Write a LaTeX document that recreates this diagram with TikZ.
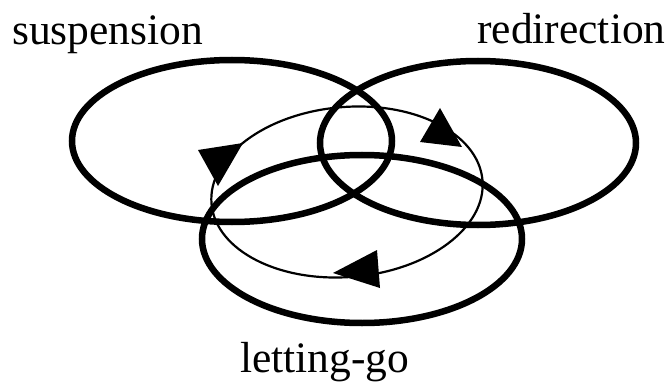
\documentclass[tikz,border=0pt]{standalone}
\usepackage{fontspec}
\setmainfont{Liberation Serif}
\usetikzlibrary{shapes.geometric}
\tikzset{
  phase/.style={draw,ellipse,inner sep=0pt,line width=6.5pt},
  cycleloop/.style={draw,ellipse,inner sep=0pt,line width=2.2pt},
  tag/.style={anchor=base west,inner sep=0pt,font=\fontsize{43.5}{52}\selectfont},
}
\begin{document}
\begin{tikzpicture}[x=1pt,y=1pt]
  \useasboundingbox (0,0) rectangle (667,381);
  % the three phases
  \node[phase,minimum width=320pt,minimum height=162pt] (susp) at (232,240) {};
  \node[phase,minimum width=316pt,minimum height=164pt] (redir) at (478,238) {};
  \node[phase,minimum width=320pt,minimum height=168pt] (letgo) at (362,142) {};
  % the cycle through them
  \node[cycleloop,minimum width=272pt,minimum height=170pt,rotate=5] (cyc) at (347,189) {};
  \fill (440,273) -- (420,239) -- (462,234) -- cycle;
  \fill (198,231) -- (243,238) -- (218,195) -- cycle;
  \fill (333,108) -- (377,131) -- (380,93) -- cycle;
  % labels
  \node[tag] (suspLabel) at (12,336) {suspension};
  \node[tag] (redirLabel) at (477,337) {redirection};
  \node[tag] (letgoLabel) at (240,9) {letting-go};
\end{tikzpicture}
\end{document}
